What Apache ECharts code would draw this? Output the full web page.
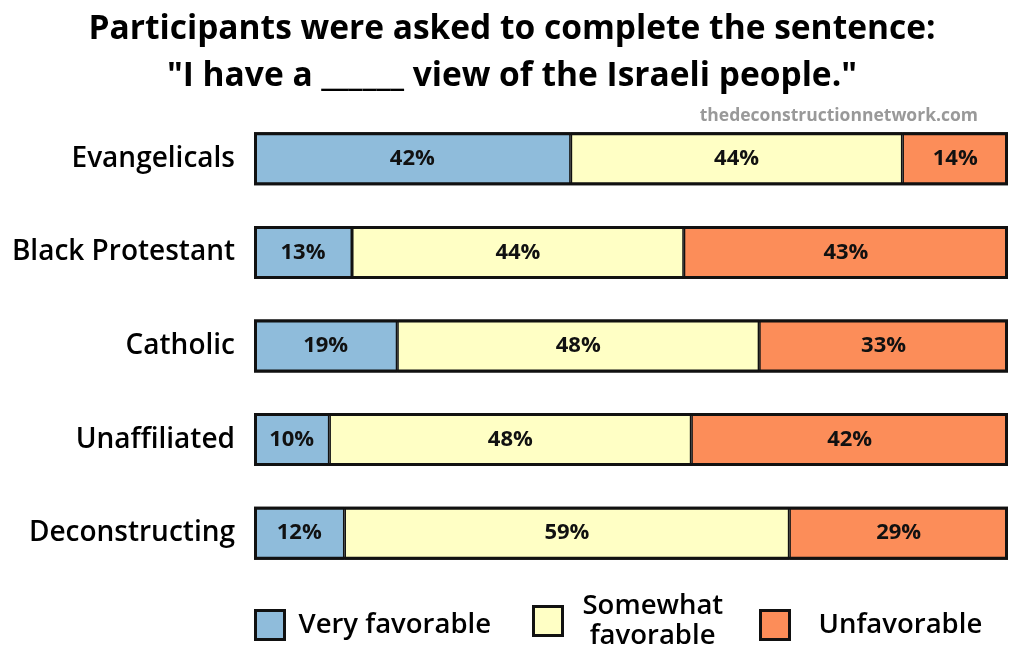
<!DOCTYPE html>
<html><head><meta charset="utf-8">
<script src="https://cdn.jsdelivr.net/npm/echarts@6/dist/echarts.min.js"></script>
<style>html,body{margin:0;padding:0;background:#fff}#c{width:1024px;height:662px}</style>
</head><body><div id="c"></div>
<script>
const categories = ['Evangelicals','Black Protestant','Catholic','Unaffiliated','Deconstructing'];
const veryFavorable = [42,13,19,10,12];
const somewhatFavorable = [44,44,48,48,59];
const unfavorable = [14,43,33,42,29];
const seriesNames = ['Very favorable','Somewhat favorable','Unfavorable'];
const totals = categories.map((c,i)=>veryFavorable[i]+somewhatFavorable[i]+unfavorable[i]);

const FONT = '"Open Sans", "Noto Sans", sans-serif';
const chart = echarts.init(document.getElementById('c'));
const label = {show:true, position:'inside', formatter:'{c}%', color:'#111', fontFamily:FONT, fontWeight:'bold', fontSize:22};
function seg(name, data, color){
  return {name, type:'bar', stack:'t', data, barWidth:53,
    itemStyle:{color, borderColor:'#111', borderWidth:1.5}, label, emphasis:{disabled:true}};
}
function lt(pad){ return {fontFamily:FONT, fontWeight:600, fontSize:27.5, color:'#000', lineHeight:30, padding:[0,0,0,pad]}; }
function leg(name, left, pad, extra){
  return Object.assign({data:[{name, icon:'rect'}], bottom:16, left, itemWidth:29, itemHeight:29,
    itemStyle:{borderColor:'#111', borderWidth:3},
    textStyle:lt(pad), selectedMode:false}, extra||{});
}
chart.setOption({
  animation:false,
  title:{text:'Participants were asked to complete the sentence:\n"I have a ______ view of the Israeli people."',
    left:'center', top:1,
    textStyle:{fontFamily:FONT, fontWeight:'bold', fontSize:33.5, lineHeight:47, color:'#000'}},
  graphic:[{type:'text', right:46, top:107, style:{text:'thedeconstructionnetwork.com', fontFamily:FONT, fontWeight:'bold', fontSize:17.5, fill:'#999'}}],
  grid:{left:254, right:16, top:112, bottom:82},
  xAxis:{type:'value', min:0, max:100, show:false},
  yAxis:{type:'category', data:categories, inverse:true,
    axisLine:{show:false}, axisTick:{show:false},
    axisLabel:{margin:19, color:'#000', fontFamily:FONT, fontWeight:600, fontSize:28}},
  legend:[
    leg(seriesNames[0], 249, 9),
    leg(seriesNames[1], 527, 15, {bottom:6, formatter:()=>'Somewhat\n favorable'}),
    leg(seriesNames[2], 754, 24)
  ],
  series:[
    seg(seriesNames[0], veryFavorable, '#8fbcdb'),
    seg(seriesNames[1], somewhatFavorable, '#ffffc5'),
    seg(seriesNames[2], unfavorable, '#fc8d59'),
    {name:'outline', type:'bar', data:totals, barWidth:53, barGap:'-100%', z:5, silent:true,
     itemStyle:{color:'rgba(0,0,0,0)', borderColor:'#111', borderWidth:3}}
  ]
});
</script></body></html>
